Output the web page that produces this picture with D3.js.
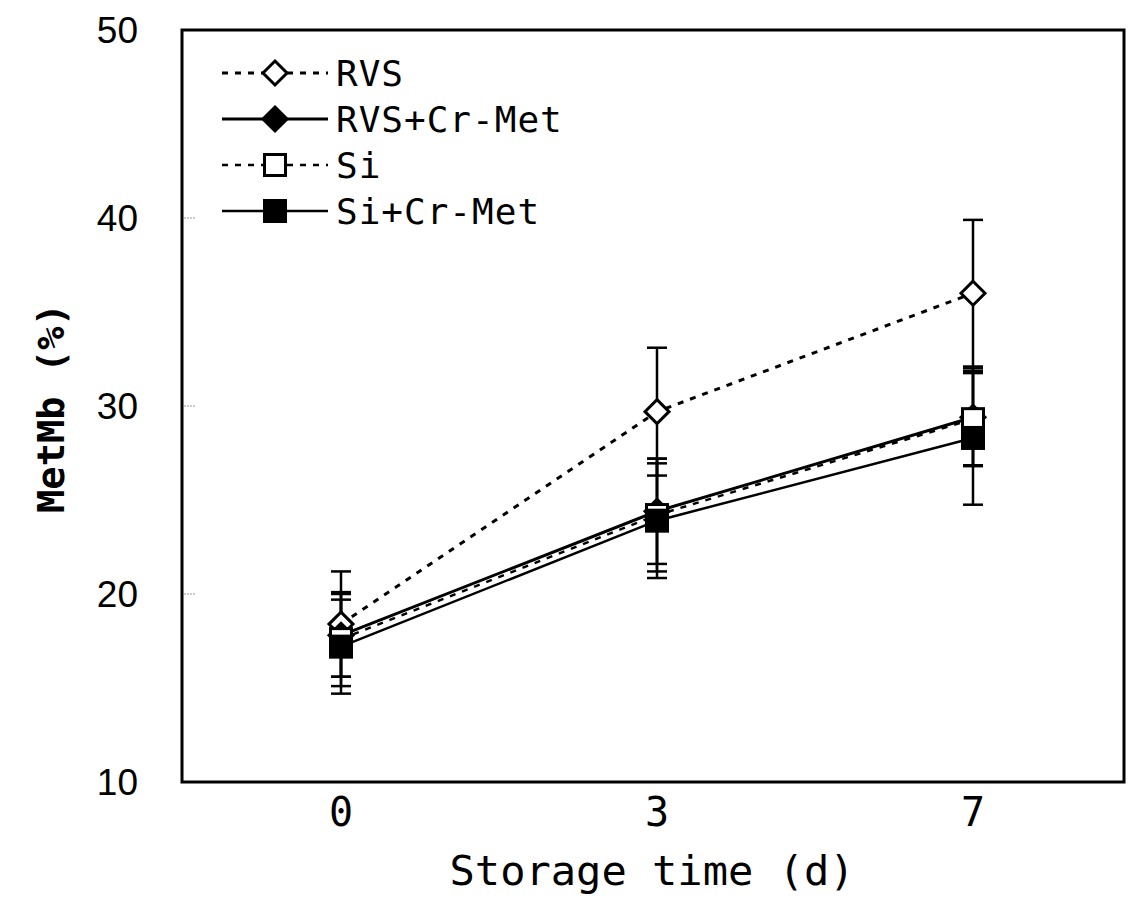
<!DOCTYPE html>
<html>
<head>
<meta charset="utf-8">
<script src="https://cdn.jsdelivr.net/npm/d3@7"></script>
<style>
  body { margin: 0; background: #fff; }
  svg { display: block; }
  .mono { font-family: "DejaVu Sans Mono", monospace; fill: #000; }
</style>
</head>
<body>
<div id="chart"></div>
<script>
// storage days (categories)
var days = ["0", "3", "7"];

// MetMb (%) means and standard deviations
var rvs = [18.4, 29.7, 36.0];
var rvsSd = [2.8, 3.4, 3.9];
var rvsCr = [17.8, 24.4, 29.4];
var rvsCrSd = [2.2, 2.8, 2.6];
var si = [17.6, 24.2, 29.3];
var siSd = [2.5, 3.0, 2.45];
var siCr = [17.2, 23.9, 28.3];
var siCrSd = [2.5, 3.05, 3.55];

var yTicks = [10, 20, 30, 40, 50];

var series = [
    {name: "RVS", values: rvs, sd: rvsSd, shape: "diamond", filled: false, dash: "6,7", width: 3},
    {name: "RVS+Cr-Met", values: rvsCr, sd: rvsCrSd, shape: "diamond", filled: true, dash: null, width: 3},
    {name: "Si", values: si, sd: siSd, shape: "square", filled: false, dash: "6,7", width: 2.5},
    {name: "Si+Cr-Met", values: siCr, sd: siCrSd, shape: "square", filled: true, dash: null, width: 2.5}
];

var margin = {top: 30, right: 3, bottom: 120, left: 182};
var width = 1128 - margin.left - margin.right;
var height = 902 - margin.top - margin.bottom;

var svg = d3.select("#chart").append("svg")
    .attr("width", 1128)
    .attr("height", 902)
    .append("g")
    .attr("transform", "translate(" + margin.left + "," + margin.top + ")");

var x = d3.scalePoint()
    .domain(days)
    .range([159, 791]);

var y = d3.scaleLinear()
    .domain([10, 50])
    .range([height, 0]);

// faint inner ticks
svg.selectAll(".ytick")
    .data(yTicks.slice(1, -1))
    .enter().append("line")
    .attr("x1", 2).attr("x2", 14)
    .attr("y1", function(d) { return y(d); })
    .attr("y2", function(d) { return y(d); })
    .attr("stroke", "#999")
    .attr("stroke-width", 1)
    .attr("stroke-dasharray", "2,1");

// y tick labels
svg.selectAll(".ylab")
    .data(yTicks)
    .enter().append("text")
    .attr("x", -44)
    .attr("y", function(d) { return y(d); })
    .attr("dy", "0.36em")
    .attr("text-anchor", "end")
    .style("font-family", "'Liberation Sans', Arial, sans-serif")
    .style("font-size", "37px")
    .text(function(d) { return d; });

// x tick labels
svg.selectAll(".xlab")
    .data(days)
    .enter().append("text")
    .attr("class", "mono")
    .attr("x", function(d) { return x(d); })
    .attr("y", height + 44)
    .attr("text-anchor", "middle")
    .style("font-size", "40px")
    .text(function(d) { return d; });

// axis titles
svg.append("text")
    .attr("class", "mono")
    .attr("x", 470)
    .attr("y", height + 103)
    .attr("text-anchor", "middle")
    .attr("textLength", 405)
    .attr("lengthAdjust", "spacingAndGlyphs")
    .style("font-size", "40px")
    .text("Storage time (d)");

svg.append("text")
    .attr("class", "mono")
    .attr("transform", "translate(" + (-118) + "," + (y(30) + 2) + ") rotate(-90)")
    .attr("text-anchor", "middle")
    .attr("textLength", 210)
    .attr("lengthAdjust", "spacingAndGlyphs")
    .style("font-size", "38px")
    .style("font-weight", "bold")
    .text("MetMb (%)");

// error bars
series.forEach(function(s) {
    var g = svg.append("g");
    days.forEach(function(d, i) {
        var cx = x(d), top = y(s.values[i] + s.sd[i]), bot = y(s.values[i] - s.sd[i]);
        g.append("line").attr("x1", cx).attr("x2", cx).attr("y1", top).attr("y2", bot)
            .attr("stroke", "#000").attr("stroke-width", 2.5);
        [top, bot].forEach(function(yy) {
            g.append("line").attr("x1", cx - 10).attr("x2", cx + 10).attr("y1", yy).attr("y2", yy)
                .attr("stroke", "#000").attr("stroke-width", 2.5);
        });
    });
});

var line = d3.line()
    .x(function(d, i) { return x(days[i]); })
    .y(function(d) { return y(d); });

series.forEach(function(s) {
    svg.append("path")
        .datum(s.values)
        .attr("d", line)
        .attr("fill", "none")
        .attr("stroke", "#000")
        .attr("stroke-width", s.width)
        .attr("stroke-dasharray", s.dash);
});

function drawMarker(g, s, cx, cy) {
    if (s.shape === "diamond") {
        g.append("path")
            .attr("d", "M" + cx + "," + (cy - 12) + "L" + (cx + 12) + "," + cy + "L" + cx + "," + (cy + 12) + "L" + (cx - 12) + "," + cy + "Z")
            .attr("fill", s.filled ? "#000" : "#fff")
            .attr("stroke", "#000")
            .attr("stroke-width", 3);
    } else {
        g.append("rect")
            .attr("x", cx - 10.5).attr("y", cy - 10.5)
            .attr("width", 21).attr("height", 21)
            .attr("fill", s.filled ? "#000" : "#fff")
            .attr("stroke", "#000")
            .attr("stroke-width", 3);
    }
}

var markers = svg.append("g");
series.forEach(function(s) {
    days.forEach(function(d, i) {
        drawMarker(markers, s, x(d), y(s.values[i]));
    });
});

// frame
svg.append("rect")
    .attr("x", 0).attr("y", 0)
    .attr("width", width - 1).attr("height", height)
    .attr("fill", "none")
    .attr("stroke", "#000")
    .attr("stroke-width", 3);

// legend
var legend = svg.append("g").attr("transform", "translate(40,43)");
var legendItem = legend.selectAll(".leg")
    .data(series)
    .enter().append("g")
    .attr("transform", function(d, i) { return "translate(0," + (i * 46) + ")"; });

legendItem.append("line")
    .attr("x1", 0).attr("x2", 106)
    .attr("y1", 0).attr("y2", 0)
    .attr("stroke", "#000")
    .attr("stroke-width", function(d) { return d.width; })
    .attr("stroke-dasharray", function(d) { return d.dash; });

legendItem.each(function(d) {
    drawMarker(d3.select(this), d, 53, 0);
});

legendItem.append("text")
    .attr("class", "mono")
    .attr("x", 114)
    .attr("y", 13)
    .style("font-size", "36px")
    .style("letter-spacing", "1px")
    .text(function(d) { return d.name; });
</script>
</body>
</html>
